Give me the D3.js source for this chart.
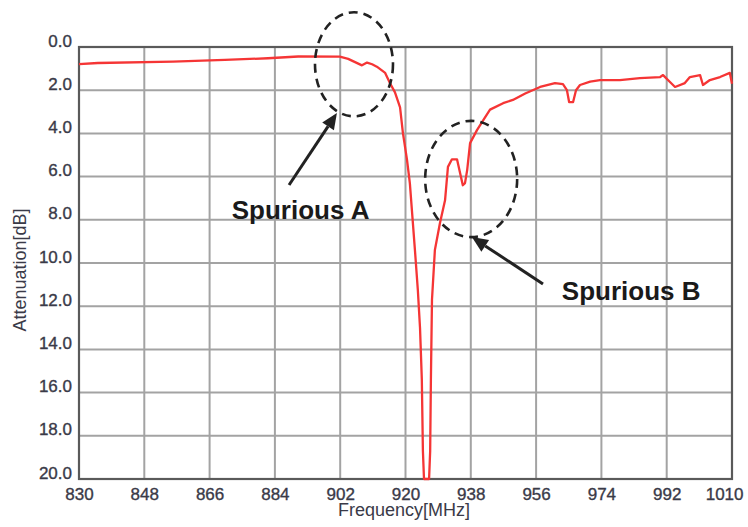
<!DOCTYPE html>
<html><head><meta charset="utf-8">
<script src="https://cdn.jsdelivr.net/npm/d3@7"></script>
<style>body{margin:0;background:#fff}svg{display:block}</style>
</head><body>
<svg id="c" width="748" height="527"></svg>
<script>
// Frequency (MHz) and attenuation (dB) of the measured trace
const freq = [830.0,835.2,855.9,870.2,882.1,890.4,901.9,904.2,906.1,908.0,909.4,910.8,912.1,914.4,915.7,917.1,918.5,919.3,920.4,921.2,922.6,923.4,924.0,924.5,924.8,925.1,926.5,926.8,927.0,927.3,928.1,929.5,930.9,931.7,932.8,934.2,935.0,935.8,936.4,937.0,937.8,939.7,941.4,943.3,946.9,949.6,953.0,957.1,961.2,963.4,964.5,965.1,966.2,967.0,968.1,970.9,973.6,979.1,984.6,990.2,991.0,992.9,994.3,997.0,998.4,1001.2,1002.0,1003.9,1006.7,1009.4,1010.0];
const atten = [0.79,0.74,0.68,0.60,0.52,0.44,0.45,0.55,0.70,0.85,0.72,0.80,0.91,1.20,1.67,2.10,2.80,4.00,5.20,6.30,9.40,11.25,13.0,15.4,18.7,20.0,20.0,18.7,15.4,11.7,9.4,8.15,7.1,5.55,5.2,5.2,5.8,6.4,6.3,5.7,4.45,3.85,3.4,2.9,2.6,2.45,2.15,1.85,1.67,1.72,2.0,2.55,2.55,2.0,1.76,1.6,1.53,1.53,1.44,1.39,1.3,1.62,1.85,1.67,1.39,1.3,1.76,1.53,1.39,1.2,1.7];
const xTicks = [830,848,866,884,902,920,938,956,974,992,1010];
const yTicks = [0,2,4,6,8,10,12,14,16,18,20];
const yTickLabels = ["0.0","2.0","4.0","6.0","8.0","10.0","12.0","14.0","16.0","18.0","20.0"];
const xTitle = "Frequency[MHz]";
const yTitle = "Attenuation[dB]";
// annotations in data units
const ellipses = [{cx:905.8, cy:0.8, rx:10.75, ry:2.41},{cx:938.1, cy:6.11, rx:12.68, ry:2.69}];
const arrows = [{x1:887.9,y1:6.39,x2:901.1,y2:3.06},{x1:957.9,y1:10.97,x2:938.3,y2:8.8}];
const labels = [{text:"Spurious A", f:872.1, db:7.96},{text:"Spurious B", f:963.1, db:11.71}];

const svg = d3.select("#c");
const L=79,R=732,T=47,B=479;
const x = d3.scaleLinear().domain([830,1010]).range([L,R]);
const y = d3.scaleLinear().domain([0,20]).range([T,B]);
const font = "'Liberation Sans', Arial, sans-serif";
const txtCol = "#3a3a48";

// grid
const g = svg.append("g");
g.selectAll(".vx").data(xTicks).join("line")
  .attr("x1",d=>x(d)).attr("x2",d=>x(d)).attr("y1",T).attr("y2",B)
  .attr("stroke","#a3a3a3").attr("stroke-width",2);
g.selectAll(".hy").data(yTicks).join("line")
  .attr("y1",d=>y(d)).attr("y2",d=>y(d)).attr("x1",L).attr("x2",R)
  .attr("stroke","#a3a3a3").attr("stroke-width",2);

// axes (labels)
const xAxis = d3.axisBottom(x).tickValues(xTicks).tickSize(0).tickPadding(10).tickFormat(d3.format("d"));
const xa = svg.append("g").attr("transform",`translate(0,${B})`).call(xAxis);
xa.select(".domain").remove();
xa.selectAll("text").attr("font-family",font).attr("font-size",17).attr("fill",txtCol)
  .attr("stroke",txtCol).attr("stroke-width",0.35).attr("dy","0.62em");
xa.selectAll(".tick").filter(d=>d===1010).select("text").attr("text-anchor","end").attr("x",11);
const yAxis = d3.axisLeft(y).tickValues(yTicks).tickSize(0).tickPadding(7).tickFormat((d,i)=>yTickLabels[i]);
const ya = svg.append("g").attr("transform",`translate(${L},0)`).call(yAxis);
ya.select(".domain").remove();
ya.selectAll("text").attr("font-family",font).attr("font-size",17).attr("fill",txtCol)
  .attr("stroke",txtCol).attr("stroke-width",0.35).attr("dy","-0.05em");

// frame
svg.append("rect").attr("x",L).attr("y",T).attr("width",R-L).attr("height",B-T)
  .attr("fill","none").attr("stroke","#5a5a5a").attr("stroke-width",2.2);

// curve
svg.append("path").datum(freq.map((f,i)=>[f,atten[i]]))
  .attr("d",d3.line().x(d=>x(d[0])).y(d=>y(d[1])))
  .attr("fill","none").attr("stroke","#f53535").attr("stroke-width",2.3).attr("stroke-linejoin","round");

// titles
svg.append("text").attr("x",404).attr("y",516).attr("text-anchor","middle")
  .attr("font-family",font).attr("font-size",18).attr("fill",txtCol).text(xTitle);
svg.append("text").attr("transform","translate(26,270) rotate(-90)").attr("text-anchor","middle")
  .attr("font-family",font).attr("font-size",18).attr("fill",txtCol).text(yTitle);

// ellipses
svg.selectAll(".ell").data(ellipses).join("ellipse")
  .attr("cx",d=>x(d.cx)).attr("cy",d=>y(d.cy))
  .attr("rx",d=>x(d.cx+d.rx)-x(d.cx)).attr("ry",d=>y(d.cy+d.ry)-y(d.cy))
  .attr("fill","none").attr("stroke","#222").attr("stroke-width",2.6).attr("stroke-dasharray","9,6");

// arrows
arrows.forEach(a=>{
  const x1=x(a.x1),y1=y(a.y1),x2=x(a.x2),y2=y(a.y2);
  const ang=Math.atan2(y2-y1,x2-x1), hl=16, hw=7;
  const bx=x2-hl*Math.cos(ang), by=y2-hl*Math.sin(ang);
  svg.append("line").attr("x1",x1).attr("y1",y1).attr("x2",bx).attr("y2",by)
    .attr("stroke","#222").attr("stroke-width",3);
  const px=-Math.sin(ang), py=Math.cos(ang);
  svg.append("path").attr("d",`M${x2},${y2}L${bx+hw*px},${by+hw*py}L${bx-hw*px},${by-hw*py}Z`).attr("fill","#222");
});

// labels
svg.selectAll(".lab").data(labels).join("text")
  .attr("x",d=>x(d.f)).attr("y",d=>y(d.db))
  .attr("font-family",font).attr("font-size",26).attr("font-weight","bold").attr("fill","#1a1a1a")
  .text(d=>d.text);
</script>
</body></html>
